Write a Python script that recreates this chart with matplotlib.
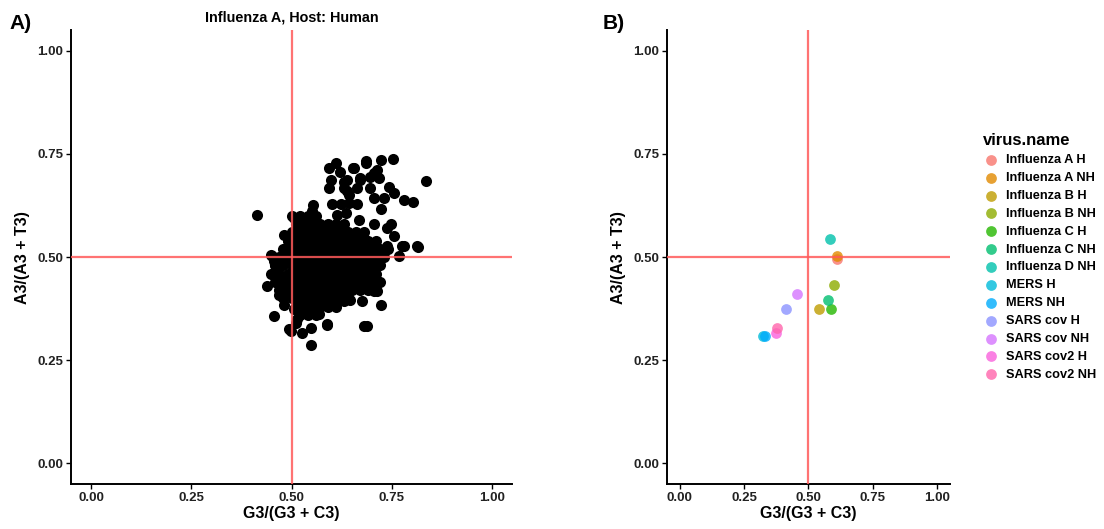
import numpy as np
import matplotlib.pyplot as plt

plt.rcParams['font.family'] = ['Liberation Sans', 'DejaVu Sans']
plt.rcParams['font.weight'] = 'bold'

# Panel A: Influenza A, human host -- outer points read one by one
flu_a_x = [0.413, 0.836, 0.753, 0.722, 0.687, 0.612, 0.593, 0.654, 0.714, 0.622,
           0.598, 0.639, 0.672, 0.697, 0.718, 0.593, 0.631, 0.664, 0.697, 0.743,
           0.756, 0.643, 0.706, 0.731, 0.781, 0.804, 0.722, 0.602, 0.623, 0.643,
           0.664, 0.614, 0.635, 0.554, 0.552, 0.506, 0.527, 0.481, 0.814, 0.781,
           0.768, 0.452, 0.456, 0.439, 0.456, 0.493, 0.548, 0.681, 0.689, 0.722,
           0.589, 0.564, 0.514, 0.706, 0.747, 0.756, 0.739, 0.656, 0.685, 0.706,
           0.672, 0.631, 0.639, 0.668, 0.776, 0.706, 0.739, 0.448, 0.460, 0.468,
           0.481, 0.506, 0.510, 0.498, 0.527, 0.548, 0.568, 0.588, 0.606, 0.631,
           0.639, 0.714, 0.677, 0.647, 0.529, 0.816]
flu_a_y = [0.601, 0.685, 0.738, 0.736, 0.729, 0.729, 0.716, 0.716, 0.712, 0.707,
           0.687, 0.687, 0.687, 0.695, 0.691, 0.667, 0.667, 0.667, 0.667, 0.671,
           0.655, 0.651, 0.643, 0.643, 0.639, 0.633, 0.617, 0.629, 0.629, 0.631,
           0.629, 0.603, 0.607, 0.627, 0.611, 0.595, 0.583, 0.554, 0.528, 0.526,
           0.502, 0.502, 0.490, 0.429, 0.357, 0.325, 0.288, 0.334, 0.334, 0.385,
           0.337, 0.365, 0.349, 0.417, 0.579, 0.550, 0.526, 0.716, 0.732, 0.704,
           0.691, 0.683, 0.659, 0.591, 0.526, 0.579, 0.571, 0.506, 0.482, 0.409,
           0.385, 0.373, 0.341, 0.321, 0.317, 0.329, 0.361, 0.335, 0.385, 0.393,
           0.417, 0.417, 0.393, 0.397, 0.581, 0.524]

# dense core of the cloud, row by row (y, x values)
core_rows = [
    (0.60, [0.50, 0.52, 0.54, 0.56]),
    (0.58, [0.51, 0.53, 0.55, 0.57, 0.59, 0.61, 0.63]),
    (0.56, [0.50, 0.52, 0.54, 0.56, 0.58, 0.60, 0.62, 0.64, 0.66, 0.68]),
    (0.54, [0.49, 0.51, 0.53, 0.55, 0.57, 0.59, 0.61, 0.63, 0.65, 0.67, 0.69, 0.71]),
    (0.52, [0.48, 0.50, 0.52, 0.54, 0.56, 0.58, 0.60, 0.62, 0.64, 0.66, 0.68, 0.70,
            0.72, 0.74]),
    (0.50, [0.47, 0.49, 0.51, 0.53, 0.55, 0.57, 0.59, 0.61, 0.63, 0.65, 0.67, 0.69,
            0.71, 0.73]),
    (0.48, [0.46, 0.48, 0.50, 0.52, 0.54, 0.56, 0.58, 0.60, 0.62, 0.64, 0.66, 0.68,
            0.70, 0.72]),
    (0.46, [0.45, 0.47, 0.49, 0.51, 0.53, 0.55, 0.57, 0.59, 0.61, 0.63, 0.65, 0.67,
            0.69, 0.71]),
    (0.44, [0.46, 0.48, 0.50, 0.52, 0.54, 0.56, 0.58, 0.60, 0.62, 0.64, 0.66, 0.68,
            0.70, 0.72]),
    (0.42, [0.47, 0.49, 0.51, 0.53, 0.55, 0.57, 0.59, 0.61, 0.63, 0.65, 0.67, 0.69,
            0.71]),
    (0.40, [0.48, 0.50, 0.52, 0.54, 0.56, 0.58, 0.60, 0.62, 0.64]),
    (0.38, [0.51, 0.53, 0.55, 0.57, 0.59, 0.61]),
    (0.36, [0.52, 0.54, 0.56]),
]

# Panel B: mean values per virus group
virus_names = ['Influenza A H', 'Influenza A NH', 'Influenza B H', 'Influenza B NH',
               'Influenza C H', 'Influenza C NH', 'Influenza D NH', 'MERS H', 'MERS NH',
               'SARS cov H', 'SARS cov NH', 'SARS cov2 H', 'SARS cov2 NH']
virus_gc = [0.613, 0.613, 0.540, 0.598, 0.590, 0.577, 0.583, 0.325, 0.332,
            0.414, 0.458, 0.375, 0.379]
virus_at = [0.495, 0.502, 0.375, 0.433, 0.375, 0.397, 0.545, 0.309, 0.309,
            0.373, 0.411, 0.317, 0.327]
virus_colors = ['#F8766D', '#E18A00', '#BE9C00', '#8CAB00', '#24B700', '#00BE70',
                '#00C1AB', '#00BBDA', '#00ACFC', '#8B93FF', '#D575FE', '#F962DD',
                '#FF65AC']

ticks = [0.0, 0.25, 0.5, 0.75, 1.0]
tick_labels = ['0.00', '0.25', '0.50', '0.75', '1.00']

all_x = list(flu_a_x)
all_y = list(flu_a_y)
for y, xs in core_rows:
    all_x += xs
    all_y += [y] * len(xs)

fig = plt.figure(figsize=(11.04, 5.29), dpi=100)
ax_a = fig.add_axes([0.0643, 0.085, 0.3995, 0.858])
ax_b = fig.add_axes([0.604, 0.085, 0.2563, 0.858])

red = '#FF5A5A'


def style_axis(ax):
    ax.set_xlim(-0.05, 1.05)
    ax.set_ylim(-0.05, 1.05)
    ax.set_xticks(ticks)
    ax.set_xticklabels(tick_labels)
    ax.set_yticks(ticks)
    ax.set_yticklabels(tick_labels)
    for s in ['top', 'right']:
        ax.spines[s].set_visible(False)
    for s in ['left', 'bottom']:
        ax.spines[s].set_linewidth(1.4)
    ax.tick_params(length=3.5, width=1.0, labelsize=9.5, colors='black', pad=2)
    for lab in ax.get_xticklabels() + ax.get_yticklabels():
        lab.set_fontweight('bold')
        lab.set_color('#222222')
    ax.set_xlabel('G3/(G3 + C3)', fontsize=11.5, fontweight='bold', labelpad=2)
    ax.set_ylabel('A3/(A3 + T3)', fontsize=11.5, fontweight='bold', labelpad=5)
    # reference lines sit above the points
    ax.axvline(0.5, color=red, lw=1.6, alpha=0.85, zorder=4)
    ax.axhline(0.5, color=red, lw=1.6, alpha=0.85, zorder=4)


style_axis(ax_a)
ax_a.scatter(all_x, all_y, s=64, color='black', linewidths=0, zorder=3)
ax_a.set_title('Influenza A, Host: Human', fontsize=10.4, fontweight='bold', pad=6)

style_axis(ax_b)
for name, gx, ay, col in zip(virus_names, virus_gc, virus_at, virus_colors):
    ax_b.scatter(gx, ay, s=60, color=col, alpha=0.8, linewidths=0, zorder=3, label=name)

leg = ax_b.legend(loc='upper left', bbox_to_anchor=(0.882, 0.765),
                  bbox_transform=fig.transFigure, frameon=False,
                  title='virus.name', fontsize=9.2, title_fontsize=12,
                  handlelength=1.3, handletextpad=0.55, labelspacing=0.46,
                  markerscale=1.0, borderpad=0.2)
leg._legend_box.align = 'left'
leg.get_title().set_fontweight('bold')
for t in leg.get_texts():
    t.set_fontweight('bold')

fig.text(0.009, 0.955, 'A)', fontsize=15, fontweight='bold', va='center')
fig.text(0.546, 0.955, 'B)', fontsize=15, fontweight='bold', va='center')

fig.savefig('out.png', dpi=100)
